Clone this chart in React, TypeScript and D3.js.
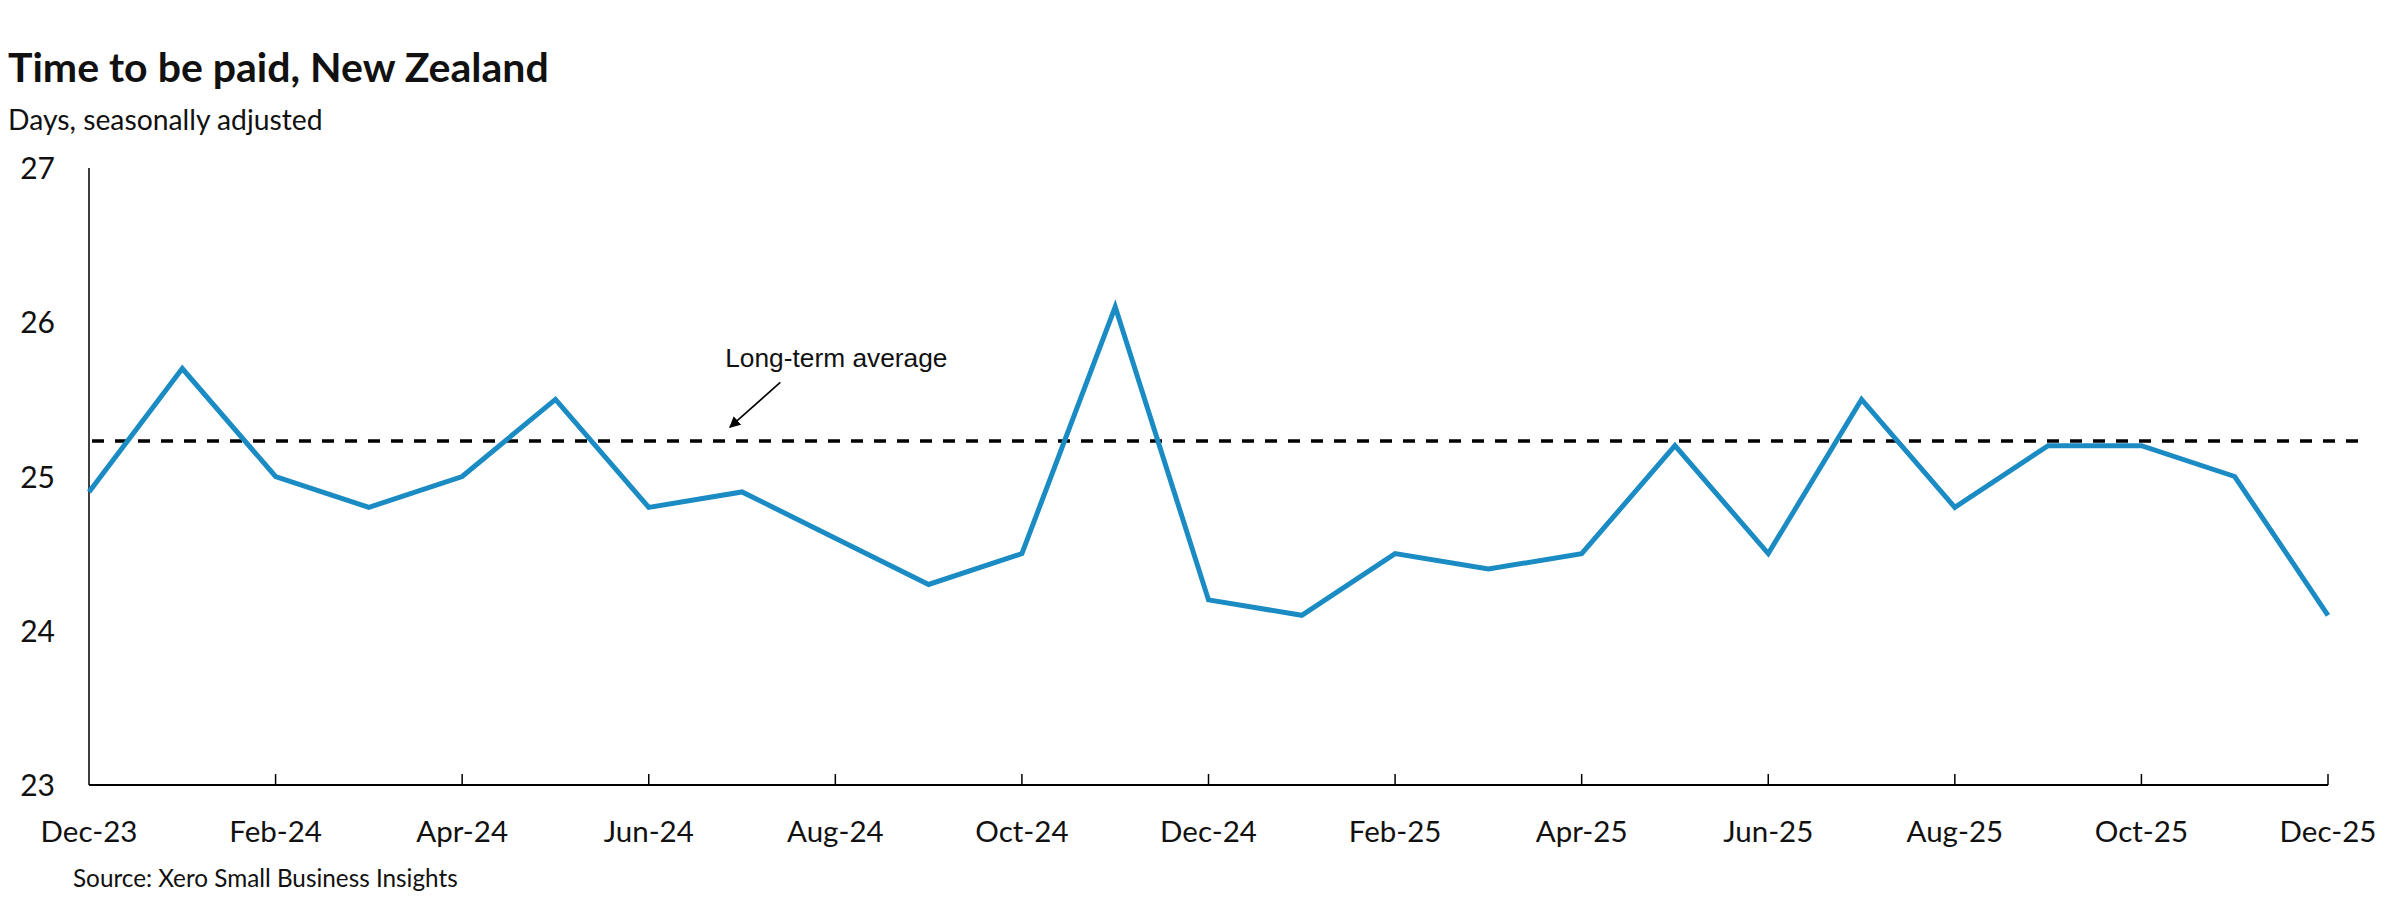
import React from 'react';
import * as d3 from 'd3';

const months = [
  'Dec-23', 'Jan-24', 'Feb-24', 'Mar-24', 'Apr-24', 'May-24', 'Jun-24', 'Jul-24', 'Aug-24',
  'Sep-24', 'Oct-24', 'Nov-24', 'Dec-24', 'Jan-25', 'Feb-25', 'Mar-25', 'Apr-25', 'May-25',
  'Jun-25', 'Jul-25', 'Aug-25', 'Sep-25', 'Oct-25', 'Nov-25', 'Dec-25',
];

const daysToPaid = [
  24.9, 25.7, 25.0, 24.8, 25.0, 25.5, 24.8, 24.9, 24.6,
  24.3, 24.5, 26.1, 24.2, 24.1, 24.5, 24.4, 24.5, 25.2,
  24.5, 25.5, 24.8, 25.2, 25.2, 25.0, 24.1,
];

const yTicks = [23, 24, 25, 26, 27];

// long-term average, drawn a little past the last month like the original
const longTermAverage = 25.23;
const averageSpan = [0, 24.43];

// annotation anchor, in month index / days units
const annotation = { label: 'Long-term average', textAt: [6.82, 25.71], from: [7.41, 25.61], to: [6.87, 25.32] };

const W = 2400;
const H = 914;
const margin = { top: 168, right: 72, bottom: 129, left: 89 };

const labelFont = 'Lato, "Open Sans", sans-serif';

export default function App() {
  const x = d3.scaleLinear().domain([0, months.length - 1]).range([margin.left, W - margin.right]);
  const y = d3.scaleLinear().domain([23, 27]).range([H - margin.bottom, margin.top]);

  const line = d3.line<number>()
    .x((_, i) => x(i))
    .y(d => y(d));

  const tickIdx = d3.range(0, months.length, 2);

  const ax0 = x(annotation.from[0]);
  const ay0 = y(annotation.from[1]);
  const ax1 = x(annotation.to[0]);
  const ay1 = y(annotation.to[1]);

  return (
    <svg
      width={W}
      height={H}
      style={{ position: 'absolute', left: 0, top: 0, background: '#fff' }}
    >
      <defs>
        <marker id="arrow" viewBox="0 0 10 10" refX="9" refY="5" markerWidth="7" markerHeight="7" orient="auto">
          <path d="M0,0 L10,5 L0,10 z" fill="#000" />
        </marker>
      </defs>

      <text x={8} y={82} fontFamily={labelFont} fontWeight={700} fontSize={41} fill="#111">
        Time to be paid, New Zealand
      </text>
      <text x={8} y={130} fontFamily={labelFont} fontSize={28.3} fill="#111">
        Days, seasonally adjusted
      </text>

      {/* axes */}
      <line x1={x(0)} x2={x(0)} y1={y(27)} y2={y(23)} stroke="#000" strokeWidth={1.5} />
      <line x1={x(0)} x2={x(months.length - 1)} y1={y(23)} y2={y(23)} stroke="#000" strokeWidth={2} />
      {tickIdx.filter(i => i > 0).map(i => (
        <line key={i} x1={x(i)} x2={x(i)} y1={y(23)} y2={y(23) - 11} stroke="#000" strokeWidth={1.5} />
      ))}

      {yTicks.map(t => (
        <text key={t} x={55} y={y(t) + 11} textAnchor="end" fontFamily={labelFont} fontSize={30} fill="#111">
          {t}
        </text>
      ))}
      {tickIdx.map(i => (
        <text key={i} x={x(i)} y={842} textAnchor="middle" fontFamily={labelFont} fontSize={29.5} fill="#111">
          {months[i]}
        </text>
      ))}

      {/* long-term average */}
      <line
        x1={x(averageSpan[0]) + 3}
        x2={x(averageSpan[1])}
        y1={y(longTermAverage)}
        y2={y(longTermAverage)}
        stroke="#000"
        strokeWidth={3.5}
        strokeDasharray="12 11"
      />

      <path d={line(daysToPaid) ?? ''} fill="none" stroke="#1B8BC4" strokeWidth={5} strokeLinejoin="miter" />

      <text
        x={x(annotation.textAt[0])}
        y={y(annotation.textAt[1])}
        fontFamily='"Liberation Sans", Arial, sans-serif'
        fontSize={26.3}
        fill="#111"
      >
        {annotation.label}
      </text>
      <line x1={ax0} y1={ay0} x2={ax1} y2={ay1} stroke="#000" strokeWidth={1.6} markerEnd="url(#arrow)" />

      <text x={73} y={887} fontFamily={labelFont} fontSize={24.3} fill="#111">
        Source: Xero Small Business Insights
      </text>
    </svg>
  );
}
